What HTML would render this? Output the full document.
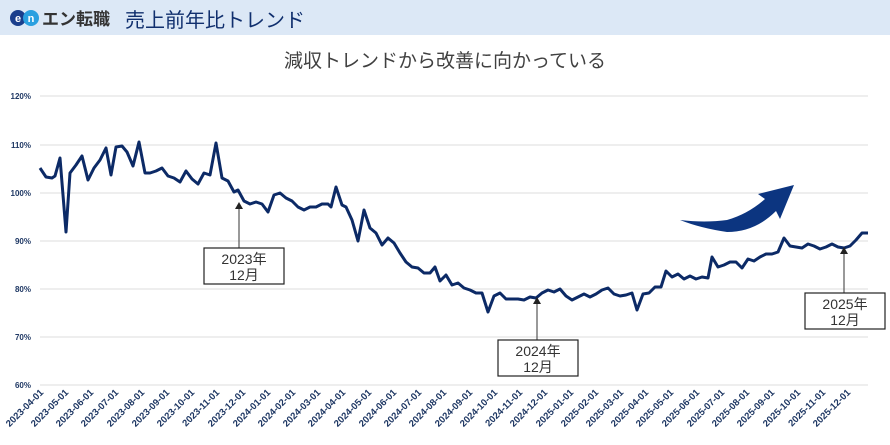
<!DOCTYPE html>
<html><head><meta charset="utf-8"><style>
body{margin:0;background:#fff;width:890px;height:440px;overflow:hidden;font-family:"Liberation Sans","Noto Sans CJK JP",sans-serif}
</style></head><body>
<svg width="890" height="440" viewBox="0 0 890 440" xmlns="http://www.w3.org/2000/svg" font-family="Liberation Sans, Noto Sans CJK JP, sans-serif">
<rect x="0" y="0" width="890" height="35" fill="#dce8f6"/>
<circle cx="18" cy="18" r="8" fill="#1a3e8c"/><circle cx="31" cy="18" r="8" fill="#2aa0e0"/>
<text x="18" y="22" font-size="11" fill="#fff" text-anchor="middle" font-weight="bold">e</text>
<text x="31" y="22" font-size="11" fill="#fff" text-anchor="middle" font-weight="bold">n</text>
<text x="42" y="25" font-size="17" fill="#333" font-weight="bold">エン転職</text>
<text x="125" y="27" font-size="20" fill="#102f6e">売上前年比トレンド</text>
<text x="445" y="67" font-size="19" fill="#404040" text-anchor="middle">減収トレンドから改善に向かっている</text>
<g stroke="#e4e4e4" stroke-width="1.3">
<line x1="40" x2="868" y1="96" y2="96"/><line x1="40" x2="868" y1="145" y2="145"/><line x1="40" x2="868" y1="193" y2="193"/><line x1="40" x2="868" y1="241" y2="241"/><line x1="40" x2="868" y1="289" y2="289"/><line x1="40" x2="868" y1="337" y2="337"/><line x1="40" x2="868" y1="385" y2="385"/>
</g>
<g font-size="8" fill="#1f3864" font-weight="bold" text-anchor="end">
<text x="31" y="99">120%</text><text x="31" y="148">110%</text><text x="31" y="196">100%</text><text x="31" y="244">90%</text><text x="31" y="292">80%</text><text x="31" y="340">70%</text><text x="31" y="388">60%</text>
</g>
<polyline fill="none" stroke="#0c2a66" stroke-width="3" stroke-linejoin="round" points="40,168 46,177 52,178 55,176 60,158 66,232 70,173 76,165 82,156 88,180 94,168 100,160 106,148 111,175 116,147 122,146 127,152 133,166 139,142 145,173 150,173 156,171 162,168 168,176 174,178 180,182 186,171 192,179 198,184 204,173 210,175 216,143 222,178 228,181 234,192 238,190 244,201 250,204 256,202 262,204 268,212 274,195 280,193 286,198 292,201 298,207 304,210 310,207 316,207 322,204 328,204 331,207 336,187 342,205 346,207 352,220 358,241 364,210 370,228 376,233 382,245 388,238 394,243 400,253 406,262 412,267 418,268 424,273 430,273 435,267 440,281 446,275 452,285 458,283 464,288 470,290 476,293 482,293 488,312 494,296 500,293 506,299 512,299 518,299 524,300 530,297 536,298 542,293 548,290 554,292 560,289 566,296 572,300 578,297 584,294 590,297 596,294 602,290 608,288 614,294 620,296 626,295 632,293 637,310 643,294 649,293 655,287 661,287 666,271 672,277 678,274 684,279 690,276 696,279 702,277 708,278 712,257 718,267 724,265 730,262 736,262 742,268 748,259 754,261 760,257 766,254 772,254 778,252 784,238 790,246 796,247 802,248 808,244 814,246 820,249 826,247 832,244 838,247 844,248 850,246 856,240 862,233 868,233"/>
<path d="M680,220 Q700,228 727,232 Q755,232 776,211 L780,219 L794,185 L758,194 L765,199 Q748,214 727,220 Q705,223 680,220 Z" fill="#0c3580"/>
<g stroke="#555" stroke-width="1.2" fill="#222">
<line x1="239" y1="208" x2="239" y2="248"/><path d="M235,209 L239,202 L243,209Z" stroke="none"/>
<line x1="537" y1="303" x2="537" y2="340"/><path d="M533,304 L537,297 L541,304Z" stroke="none"/>
<line x1="844" y1="253" x2="844" y2="293"/><path d="M840,254 L844,247 L848,254Z" stroke="none"/>
</g>
<g fill="#fff" stroke="#222" stroke-width="1.2">
<rect x="204" y="248" width="80" height="36"/><rect x="498" y="340" width="80" height="36"/><rect x="805" y="293" width="80" height="36"/>
</g>
<g font-size="14" fill="#333" text-anchor="middle">
<text x="244" y="264">2023年</text><text x="244" y="280">12月</text>
<text x="538" y="356">2024年</text><text x="538" y="372">12月</text>
<text x="845" y="309">2025年</text><text x="845" y="325">12月</text>
</g>
<g font-size="9.5" fill="#1f3864" font-weight="bold" text-anchor="end">
<text transform="translate(44,393) rotate(-45)">2023-04-01</text>
<text transform="translate(69,393) rotate(-45)">2023-05-01</text>
<text transform="translate(94,393) rotate(-45)">2023-06-01</text>
<text transform="translate(119,393) rotate(-45)">2023-07-01</text>
<text transform="translate(145,393) rotate(-45)">2023-08-01</text>
<text transform="translate(170,393) rotate(-45)">2023-09-01</text>
<text transform="translate(195,393) rotate(-45)">2023-10-01</text>
<text transform="translate(220,393) rotate(-45)">2023-11-01</text>
<text transform="translate(246,393) rotate(-45)">2023-12-01</text>
<text transform="translate(271,393) rotate(-45)">2024-01-01</text>
<text transform="translate(296,393) rotate(-45)">2024-02-01</text>
<text transform="translate(321,393) rotate(-45)">2024-03-01</text>
<text transform="translate(346,393) rotate(-45)">2024-04-01</text>
<text transform="translate(372,393) rotate(-45)">2024-05-01</text>
<text transform="translate(397,393) rotate(-45)">2024-06-01</text>
<text transform="translate(422,393) rotate(-45)">2024-07-01</text>
<text transform="translate(447,393) rotate(-45)">2024-08-01</text>
<text transform="translate(473,393) rotate(-45)">2024-09-01</text>
<text transform="translate(498,393) rotate(-45)">2024-10-01</text>
<text transform="translate(523,393) rotate(-45)">2024-11-01</text>
<text transform="translate(548,393) rotate(-45)">2024-12-01</text>
<text transform="translate(574,393) rotate(-45)">2025-01-01</text>
<text transform="translate(599,393) rotate(-45)">2025-02-01</text>
<text transform="translate(624,393) rotate(-45)">2025-03-01</text>
<text transform="translate(649,393) rotate(-45)">2025-04-01</text>
<text transform="translate(674,393) rotate(-45)">2025-05-01</text>
<text transform="translate(700,393) rotate(-45)">2025-06-01</text>
<text transform="translate(725,393) rotate(-45)">2025-07-01</text>
<text transform="translate(750,393) rotate(-45)">2025-08-01</text>
<text transform="translate(775,393) rotate(-45)">2025-09-01</text>
<text transform="translate(801,393) rotate(-45)">2025-10-01</text>
<text transform="translate(826,393) rotate(-45)">2025-11-01</text>
<text transform="translate(851,393) rotate(-45)">2025-12-01</text>
</g>
</svg>
</body></html>
